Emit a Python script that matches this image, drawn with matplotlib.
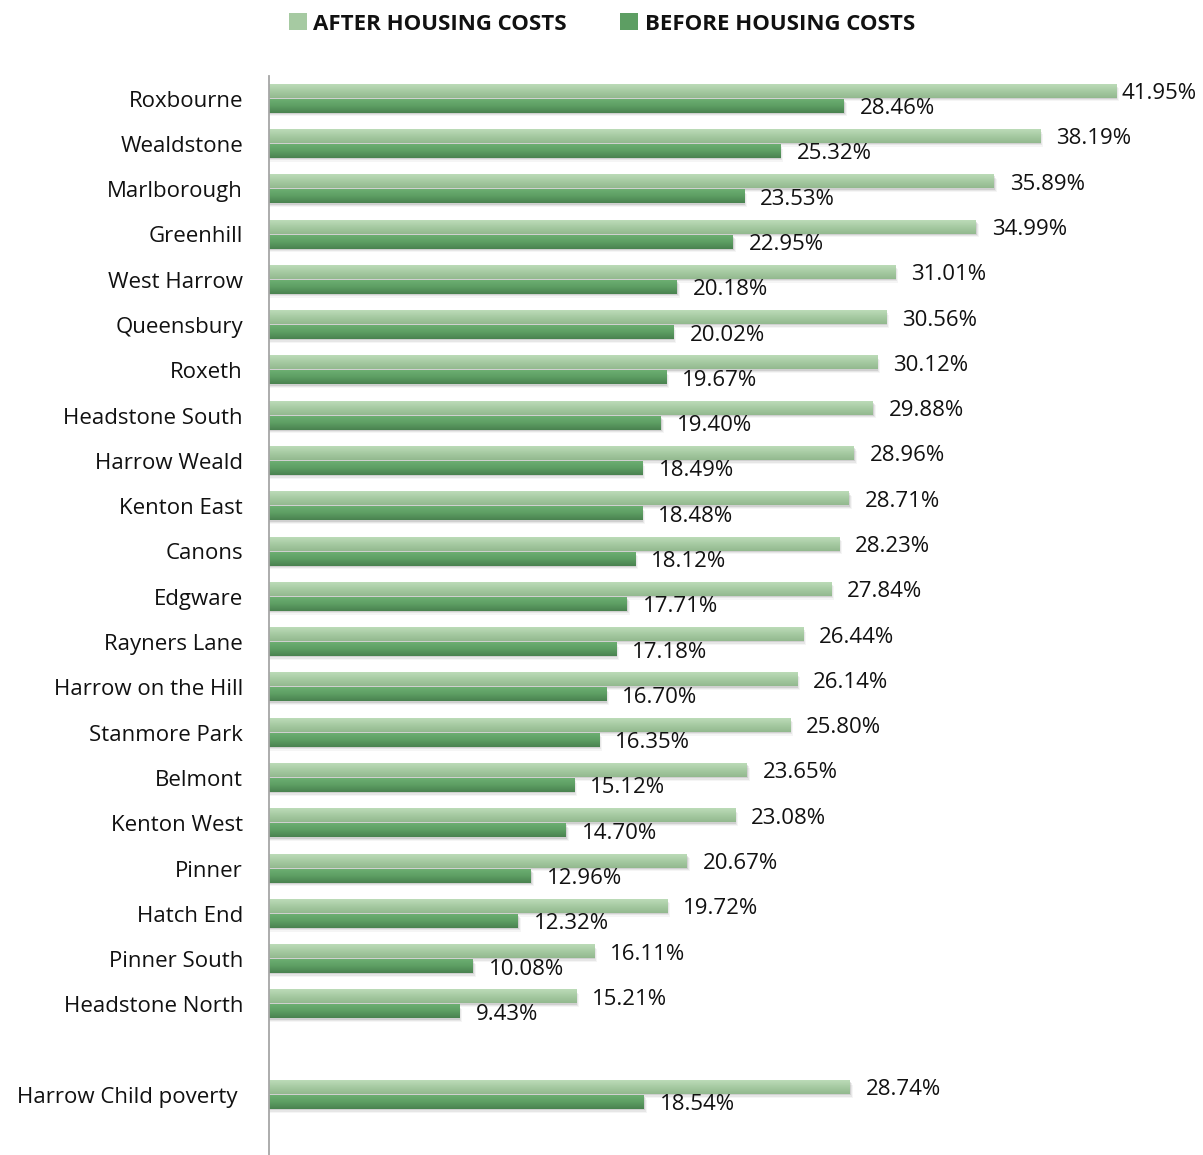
import matplotlib
matplotlib.use("Agg")
import matplotlib.pyplot as plt
import numpy as np
from matplotlib.colors import LinearSegmentedColormap
from matplotlib.patches import Rectangle, Patch

wards = ["Roxbourne", "Wealdstone", "Marlborough", "Greenhill", "West Harrow",
         "Queensbury", "Roxeth", "Headstone South", "Harrow Weald", "Kenton East",
         "Canons", "Edgware", "Rayners Lane", "Harrow on the Hill", "Stanmore Park",
         "Belmont", "Kenton West", "Pinner", "Hatch End", "Pinner South",
         "Headstone North", "", "Harrow Child poverty "]
after_hc = [41.95, 38.19, 35.89, 34.99, 31.01, 30.56, 30.12, 29.88, 28.96, 28.71,
            28.23, 27.84, 26.44, 26.14, 25.80, 23.65, 23.08, 20.67, 19.72, 16.11,
            15.21, None, 28.74]
before_hc = [28.46, 25.32, 23.53, 22.95, 20.18, 20.02, 19.67, 19.40, 18.49, 18.48,
             18.12, 17.71, 17.18, 16.70, 16.35, 15.12, 14.70, 12.96, 12.32, 10.08,
             9.43, None, 18.54]
series_names = ["AFTER HOUSING COSTS", "BEFORE HOUSING COSTS"]

FONT = ["Open Sans", "DejaVu Sans"]
plt.rcParams['font.family'] = FONT
TXT = "#111111"

W, H = 1203, 1155
DPI = 100
fig = plt.figure(figsize=(W / DPI, H / DPI), dpi=DPI)

# axes geometry in pixels
x0_px, x1_px = 269, 1203
pitch = 45.29
c0 = 98.6
top_px = c0 - 0.5 * pitch
bot_px = H
ax = fig.add_axes([x0_px / W, 0, (x1_px - x0_px) / W, (H - top_px) / H])
px_per_unit = 20.2
ax.set_xlim(0, (x1_px - x0_px) / px_per_unit)
ax.set_ylim((bot_px - c0) / pitch, -0.5)

for s in ["top", "right", "bottom"]:
    ax.spines[s].set_visible(False)
ax.spines["left"].set_color("#a6a6a6")
ax.spines["left"].set_linewidth(1.3)
ax.set_xticks([])
y = np.arange(len(wards))
ax.set_yticks(y)
ax.set_yticklabels(wards, fontsize=16, color=TXT)
ax.tick_params(axis="y", length=0, pad=26 * 72 / DPI)

bh = 13.2 / pitch
off = 7.5 / pitch
cm_after = LinearSegmentedColormap.from_list("a", ["#bcdbb8", "#a6caa2", "#93b98f"])
cm_before = LinearSegmentedColormap.from_list("b", ["#6cae71", "#5d9e63", "#4a8250"])
grad = np.linspace(0, 1, 32).reshape(-1, 1)

sx = 2.0 / px_per_unit
sy = 2.5 / pitch

def draw_bar(yc, val, cmap):
    # soft drop shadow
    for i, a in enumerate([0.20, 0.13, 0.07]):
        d = (i + 1) * 1.0
        ax.add_patch(Rectangle((0, yc - bh / 2 + sy * d / 2), val + sx * d / 2, bh,
                               facecolor="#7f7f7f", edgecolor="none", alpha=a, zorder=1))
    ax.imshow(grad, cmap=cmap, aspect="auto",
              extent=[0, val, yc + bh / 2, yc - bh / 2], zorder=2, interpolation="bilinear")

ax.set_autoscale_on(False)
texts = []
for i in range(len(wards)):
    if after_hc[i] is None:
        continue
    ya = i - off
    yb = i + off
    draw_bar(ya, after_hc[i], cm_after)
    draw_bar(yb, before_hc[i], cm_before)
    ta = ax.annotate(f"{after_hc[i]:.2f}%", (after_hc[i], ya), xytext=(16 * 72 / DPI, 0),
                     textcoords="offset points", ha="left", va="center_baseline",
                     fontsize=16, color=TXT, annotation_clip=False)
    tb = ax.annotate(f"{before_hc[i]:.2f}%", (before_hc[i], yb), xytext=(16 * 72 / DPI, 0),
                     textcoords="offset points", ha="left", va="center_baseline",
                     fontsize=16, color=TXT, annotation_clip=False)
    texts += [ta, tb]

# keep labels inside the figure
fig.canvas.draw()
r = fig.canvas.get_renderer()
for t in texts:
    bb = t.get_window_extent(r)
    limit = W - 6
    if bb.x1 > limit:
        shift = bb.x1 - limit
        ox, oy = t.xyann
        t.xyann = (ox - shift * 72 / DPI, oy)

# legend
handles = [Patch(facecolor="#a6caa2", edgecolor="none"),
           Patch(facecolor="#5d9e63", edgecolor="none")]
leg = fig.legend(handles, series_names, loc="center", bbox_to_anchor=(602 / W, 1 - 24 / H),
                 ncol=2, frameon=False,
                 prop={"family": FONT, "weight": "bold", "size": 16},
                 handlelength=0.8, handleheight=0.8, handletextpad=0.3, columnspacing=2.4)
for t in leg.get_texts():
    t.set_color(TXT)

fig.savefig("out.png", dpi=DPI)
